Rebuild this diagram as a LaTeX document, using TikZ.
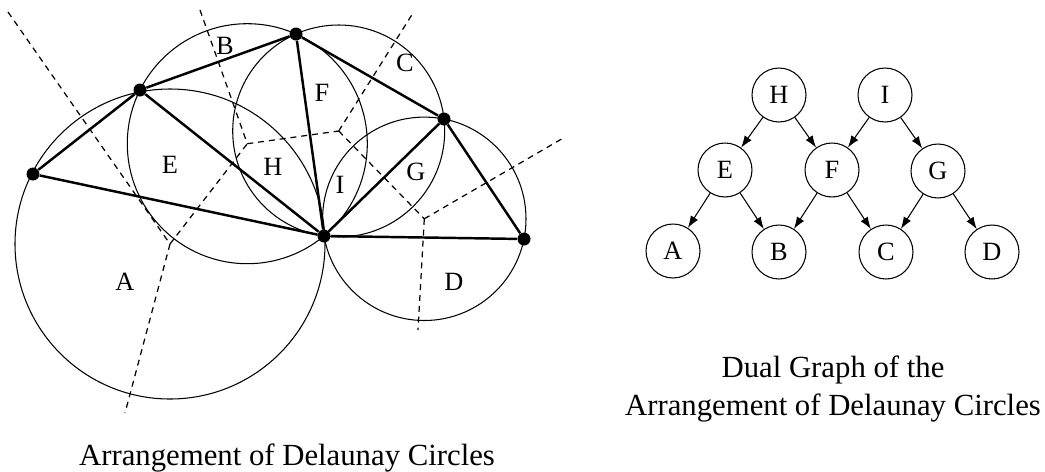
\documentclass[tikz,border=0pt]{standalone}
\usepackage{fontspec}
\setmainfont{Liberation Serif}
\usetikzlibrary{arrows.meta,positioning}
\tikzset{
  site/.style={circle, fill=black, inner sep=0pt, minimum size=2.6mm},
  delcircle/.style={line width=0.6pt},
  deledge/.style={line width=1.4pt},
  voredge/.style={line width=0.7pt, dash pattern=on 3.4pt off 2.8pt},
  region/.style={font=\fontsize{15}{17}\selectfont, inner sep=0pt},
  dual/.style={draw, circle, line width=0.6pt, minimum size=10.8mm,
               inner sep=0pt, font=\fontsize{15}{17}\selectfont},
  dualarrow/.style={-{Latex[length=2.4mm, width=1.7mm]}, line width=0.6pt},
  caption/.style={font=\fontsize{17.5}{21.5}\selectfont, align=center},
}

\begin{document}
\begin{tikzpicture}[x=0.02cm, y=-0.02cm]
\useasboundingbox (0,0) rectangle (1045,471);

% sites
\node[site] (p1) at (33,174) {};
\node[site] (p2) at (140,90) {};
\node[site] (p3) at (296,34) {};
\node[site] (p4) at (444,119) {};
\node[site] (p5) at (324,236) {};
\node[site] (p6) at (524,239) {};

% circumcentres = voronoi vertices
\coordinate (v1) at (170,244);
\coordinate (v2) at (247.3,143.7);
\coordinate (v3) at (338.7,131.0);
\coordinate (v4) at (424.3,218.8);

\draw[delcircle] (v1) circle[radius=155];
\draw[delcircle] (v2) circle[radius=120];
\draw[delcircle] (v3) circle[radius=106];
\draw[delcircle] (v4) circle[radius=101.7];

% voronoi edges
\coordinate (e1) at (8,12);
\coordinate (e2) at (125,413);
\coordinate (e3) at (200,10);
\coordinate (e4) at (413,13);
\coordinate (e5) at (565,137);
\coordinate (e6) at (418,330);
\draw[voredge] (e1) -- (v1);
\draw[voredge] (v1) -- (e2);
\draw[voredge] (v1) -- (v2);
\draw[voredge] (e3) -- (v2);
\draw[voredge] (v2) -- (v3);
\draw[voredge] (v3) -- (e4);
\draw[voredge] (v3) -- (v4);
\draw[voredge] (v4) -- (e5);
\draw[voredge] (v4) -- (e6);

% delaunay triangulation
\draw[deledge] (p1) -- (p2);
\draw[deledge] (p2) -- (p3);
\draw[deledge] (p3) -- (p4);
\draw[deledge] (p4) -- (p6);
\draw[deledge] (p6) -- (p5);
\draw[deledge] (p5) -- (p1);
\draw[deledge] (p2) -- (p5);
\draw[deledge] (p3) -- (p5);
\draw[deledge] (p4) -- (p5);

\node[region] (rA) at (125,282) {A};
\node[region] (rB) at (225,46) {B};
\node[region] (rC) at (405,63) {C};
\node[region] (rD) at (454,282) {D};
\node[region] (rE) at (170,165) {E};
\node[region] (rF) at (322,93) {F};
\node[region] (rG) at (416,172) {G};
\node[region] (rH) at (273,167) {H};
\node[region] (rI) at (340,185) {I};

% dual graph
\node[dual] (dH) at (779,95) {H};
\node[dual] (dI) at (885,95) {I};
\node[dual] (dE) at (725,170) {E};
\node[dual] (dF) at (832,170) {F};
\node[dual] (dG) at (938,171) {G};
\node[dual] (dA) at (673,251) {A};
\node[dual] (dB) at (779,252) {B};
\node[dual] (dC) at (886,252) {C};
\node[dual] (dD) at (992,252) {D};

\draw[dualarrow] (dH) -- (dE);
\draw[dualarrow] (dH) -- (dF);
\draw[dualarrow] (dI) -- (dF);
\draw[dualarrow] (dI) -- (dG);
\draw[dualarrow] (dE) -- (dA);
\draw[dualarrow] (dE) -- (dB);
\draw[dualarrow] (dF) -- (dB);
\draw[dualarrow] (dF) -- (dC);
\draw[dualarrow] (dG) -- (dC);
\draw[dualarrow] (dG) -- (dD);

\node[caption, anchor=base] (capL) at (287,465) {Arrangement of Delaunay Circles};
\node[caption, anchor=base] (capR) at (833,415)
  {Dual Graph of the\\Arrangement of Delaunay Circles};

\end{tikzpicture}
\end{document}
